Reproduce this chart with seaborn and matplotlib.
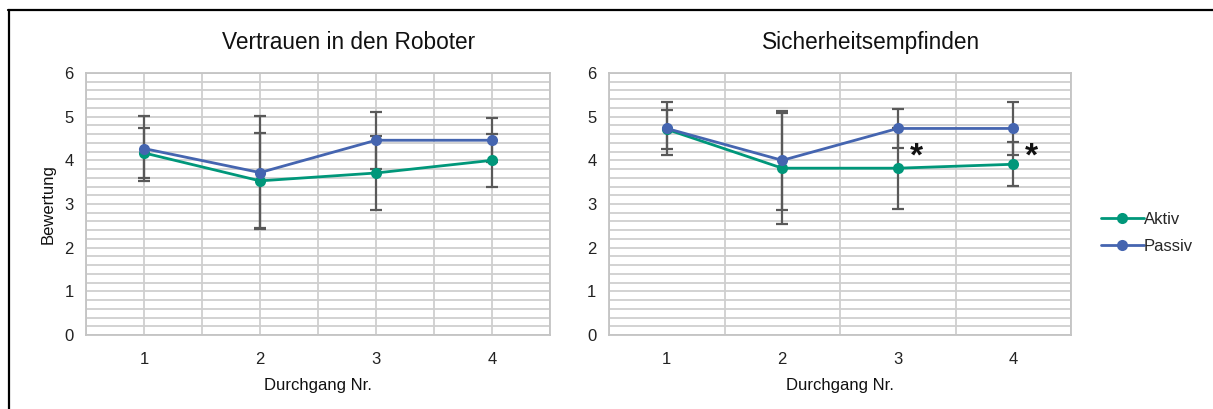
import numpy as np
import pandas as pd
import matplotlib
matplotlib.use("Agg")
import matplotlib.pyplot as plt
from matplotlib.lines import Line2D
import seaborn as sns

# ---- data ----
durchgang = [1, 2, 3, 4]
groups = ["Aktiv", "Passiv"]

vertrauen_aktiv = [4.17, 3.53, 3.71, 4.00]
vertrauen_aktiv_sd = [0.58, 1.09, 0.85, 0.60]
vertrauen_passiv = [4.27, 3.72, 4.46, 4.46]
vertrauen_passiv_sd = [0.75, 1.30, 0.65, 0.50]

sicherheit_aktiv = [4.71, 3.82, 3.82, 3.91]
sicherheit_aktiv_sd = [0.45, 1.27, 0.93, 0.50]
sicherheit_passiv = [4.73, 4.00, 4.73, 4.73]
sicherheit_passiv_sd = [0.60, 1.13, 0.45, 0.60]

titles = ["Vertrauen in den Roboter", "Sicherheitsempfinden"]
y_ticks = [0, 1, 2, 3, 4, 5, 6]
sig_durchgang = [3, 4]  # significant differences (Sicherheitsempfinden)

colors = {"Aktiv": "#00977a", "Passiv": "#4565b0"}

sns.set_theme(style="white")
plt.rcParams["font.family"] = ["Liberation Sans", "DejaVu Sans"]

W, H = 1213, 409
fig = plt.figure(figsize=(W / 100, H / 100), dpi=100)

def px_axes(x0, x1, y0, y1):
    return fig.add_axes([x0 / W, (H - y1) / H, (x1 - x0) / W, (y1 - y0) / H])

ax1 = px_axes(86, 550, 73, 335)
ax2 = px_axes(609, 1071, 73, 335)

panels = [
    (ax1, vertrauen_aktiv, vertrauen_aktiv_sd, vertrauen_passiv, vertrauen_passiv_sd, True),
    (ax2, sicherheit_aktiv, sicherheit_aktiv_sd, sicherheit_passiv, sicherheit_passiv_sd, False),
]

grid_c = "#cfcfcf"
for i, (ax, a, a_sd, p, p_sd, half_grid) in enumerate(panels):
    ax.set_xlim(0.5, 4.5)
    ax.set_ylim(0, 6)
    # gridlines
    for yv in np.arange(0, 6.01, 0.2):
        ax.axhline(yv, color=grid_c, lw=1.3, zorder=0)
    xs = np.arange(0.5, 4.51, 0.5) if half_grid else np.arange(0.5, 4.51, 1.0)
    for xv in xs:
        ax.axvline(xv, color=grid_c, lw=1.3, zorder=0)

    df = pd.DataFrame({
        "Durchgang": durchgang * 2,
        "Bewertung": list(a) + list(p),
        "Gruppe": ["Aktiv"] * 4 + ["Passiv"] * 4,
    })
    # error bars
    for vals, sds in ((a, a_sd), (p, p_sd)):
        ax.errorbar(durchgang, vals, yerr=sds, fmt="none", ecolor="#595959",
                    elinewidth=1.6, capsize=4, capthick=1.6, zorder=2)
    sns.lineplot(data=df, x="Durchgang", y="Bewertung", hue="Gruppe",
                 hue_order=groups, palette=colors, marker="o", markersize=8,
                 markeredgewidth=0, linewidth=2.0, ax=ax, legend=(i == 1),
                 zorder=3)

    ax.set_xticks(durchgang)
    ax.set_xticklabels([str(d) for d in durchgang])
    ax.set_yticks(y_ticks)
    ax.set_yticklabels([str(t) for t in y_ticks])
    ax.tick_params(axis="both", length=0, labelsize=12, colors="#222222", pad=9)
    ax.tick_params(axis="x", pad=12)
    for s in ax.spines.values():
        s.set_color("#c4c4c4")
        s.set_linewidth(1.3)
    ax.set_title(titles[i], fontsize=16.3, color="#111111", pad=17)
    bbox_w = ax.get_position().width * W
    ax.title.set_position((0.5 + 31 / bbox_w, 1.0))
    ax.set_xlabel("Durchgang Nr.", fontsize=12, color="#111111", labelpad=8)
    ax.set_ylabel("Bewertung" if i == 0 else "", fontsize=12, color="#111111", labelpad=6)

# significance marks
for d in sig_durchgang:
    ax2.text(d + 0.16, 4.08, "*", fontsize=24, fontweight="bold", ha="center",
             va="center", color="#111111", zorder=5)

# legend
leg = ax2.get_legend()
handles, labels = ax2.get_legend_handles_labels()
leg.remove()
ax2.legend(handles, labels, loc="center left", bbox_to_anchor=(1.05, 0.39),
           frameon=False, fontsize=12, handlelength=2.6, handletextpad=0.0,
           labelspacing=0.7, borderaxespad=0)

# figure frame (top and left)
fig.add_artist(Line2D([8 / W, 1.0], [(H - 10) / H, (H - 10) / H],
                      color="black", lw=1.6, transform=fig.transFigure))
fig.add_artist(Line2D([9 / W, 9 / W], [0, (H - 10) / H],
                      color="black", lw=1.6, transform=fig.transFigure))

fig.savefig("out.png", dpi=100, facecolor="white")
